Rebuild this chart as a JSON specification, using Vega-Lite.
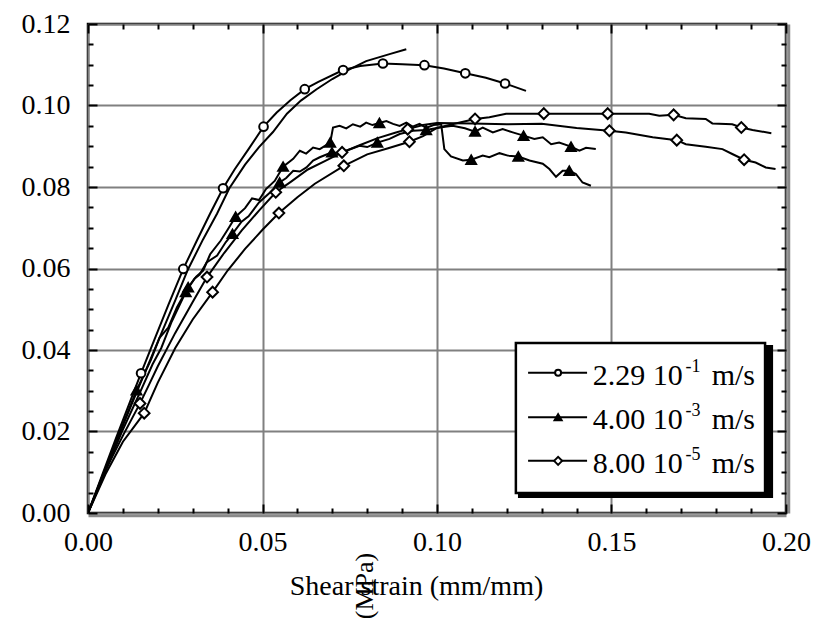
{
  "$schema": "https://vega.github.io/schema/vega-lite/v6.json",
  "width": 698,
  "height": 489,
  "autosize": {"type": "none"},
  "padding": {"left": 88, "top": 24, "right": 30, "bottom": 105},
  "background": "white",
  "config": {
    "view": {"stroke": "black", "strokeWidth": 2.5},
    "font": "Liberation Serif",
    "axis": {"labelFont": "Liberation Serif", "titleFont": "Liberation Serif", "labelColor": "black", "titleColor": "black", "titleFontWeight": "normal", "tickColor": "black"}
  },
  "datasets": {
    "curves": [
      {"c":"A1","x":0,"y":0},{"c":"A1","x":0.004,"y":0.0092},{"c":"A1","x":0.008,"y":0.0183},{"c":"A1","x":0.012,"y":0.0272},{"c":"A1","x":0.0152,"y":0.0343},{"c":"A1","x":0.019,"y":0.0425},{"c":"A1","x":0.023,"y":0.051},{"c":"A1","x":0.0273,"y":0.0599},{"c":"A1","x":0.031,"y":0.0665},{"c":"A1","x":0.035,"y":0.0735},{"c":"A1","x":0.0387,"y":0.0797},{"c":"A1","x":0.042,"y":0.0843},{"c":"A1","x":0.046,"y":0.0893},{"c":"A1","x":0.0503,"y":0.0948},{"c":"A1","x":0.054,"y":0.0982},{"c":"A1","x":0.058,"y":0.1013},{"c":"A1","x":0.0621,"y":0.104},{"c":"A1","x":0.066,"y":0.1058},{"c":"A1","x":0.0731,"y":0.1087},{"c":"A1","x":0.078,"y":0.1097},{"c":"A1","x":0.0845,"y":0.1103},{"c":"A1","x":0.09,"y":0.1101},{"c":"A1","x":0.0964,"y":0.1099},{"c":"A1","x":0.102,"y":0.1091},{"c":"A1","x":0.1081,"y":0.1079},{"c":"A1","x":0.114,"y":0.1068},{"c":"A1","x":0.1195,"y":0.1054},{"c":"A1","x":0.1255,"y":0.1036},
      {"c":"A2","x":0,"y":0},{"c":"A2","x":0.005,"y":0.0108},{"c":"A2","x":0.01,"y":0.0215},{"c":"A2","x":0.015,"y":0.0318},{"c":"A2","x":0.02,"y":0.042},{"c":"A2","x":0.025,"y":0.0522},{"c":"A2","x":0.0286,"y":0.0597},{"c":"A2","x":0.033,"y":0.0672},{"c":"A2","x":0.037,"y":0.0735},{"c":"A2","x":0.0405,"y":0.0797},{"c":"A2","x":0.045,"y":0.0855},{"c":"A2","x":0.049,"y":0.0898},{"c":"A2","x":0.053,"y":0.0935},{"c":"A2","x":0.057,"y":0.098},{"c":"A2","x":0.061,"y":0.1012},{"c":"A2","x":0.0655,"y":0.104},{"c":"A2","x":0.07,"y":0.1065},{"c":"A2","x":0.0745,"y":0.1087},{"c":"A2","x":0.0797,"y":0.1109},{"c":"A2","x":0.0864,"y":0.1126},{"c":"A2","x":0.0912,"y":0.1138},
      {"c":"B1","x":0,"y":0},{"c":"B1","x":0.004,"y":0.0088},{"c":"B1","x":0.0085,"y":0.0185},{"c":"B1","x":0.0139,"y":0.0301},{"c":"B1","x":0.018,"y":0.0375},{"c":"B1","x":0.0205,"y":0.043},{"c":"B1","x":0.023,"y":0.0455},{"c":"B1","x":0.0255,"y":0.0505},{"c":"B1","x":0.0287,"y":0.0554},{"c":"B1","x":0.031,"y":0.058},{"c":"B1","x":0.033,"y":0.0595},{"c":"B1","x":0.035,"y":0.0635},{"c":"B1","x":0.038,"y":0.0668},{"c":"B1","x":0.04,"y":0.0695},{"c":"B1","x":0.0423,"y":0.0727},{"c":"B1","x":0.045,"y":0.0748},{"c":"B1","x":0.047,"y":0.0772},{"c":"B1","x":0.049,"y":0.0768},{"c":"B1","x":0.051,"y":0.0795},{"c":"B1","x":0.0535,"y":0.0815},{"c":"B1","x":0.0559,"y":0.085},{"c":"B1","x":0.0588,"y":0.0869},{"c":"B1","x":0.0607,"y":0.0889},{"c":"B1","x":0.0625,"y":0.0882},{"c":"B1","x":0.0645,"y":0.0897},{"c":"B1","x":0.0664,"y":0.0893},{"c":"B1","x":0.0694,"y":0.0909},{"c":"B1","x":0.0702,"y":0.0946},{"c":"B1","x":0.0721,"y":0.095},{"c":"B1","x":0.074,"y":0.0944},{"c":"B1","x":0.0759,"y":0.0954},{"c":"B1","x":0.078,"y":0.0948},{"c":"B1","x":0.0797,"y":0.0958},{"c":"B1","x":0.0815,"y":0.0952},{"c":"B1","x":0.0835,"y":0.0957},{"c":"B1","x":0.0855,"y":0.0962},{"c":"B1","x":0.0874,"y":0.0955},{"c":"B1","x":0.0893,"y":0.095},{"c":"B1","x":0.0912,"y":0.0958},{"c":"B1","x":0.093,"y":0.0948},{"c":"B1","x":0.095,"y":0.0955},{"c":"B1","x":0.0969,"y":0.0945},{"c":"B1","x":0.099,"y":0.0952},{"c":"B1","x":0.1012,"y":0.0954},{"c":"B1","x":0.1021,"y":0.0893},{"c":"B1","x":0.104,"y":0.0875},{"c":"B1","x":0.1074,"y":0.0865},{"c":"B1","x":0.1098,"y":0.0867},{"c":"B1","x":0.1131,"y":0.0877},{"c":"B1","x":0.115,"y":0.0873},{"c":"B1","x":0.1179,"y":0.0883},{"c":"B1","x":0.1203,"y":0.0877},{"c":"B1","x":0.1233,"y":0.0875},{"c":"B1","x":0.1265,"y":0.0865},{"c":"B1","x":0.1303,"y":0.0857},{"c":"B1","x":0.1322,"y":0.0844},{"c":"B1","x":0.1341,"y":0.0825},{"c":"B1","x":0.136,"y":0.084},{"c":"B1","x":0.1379,"y":0.084},{"c":"B1","x":0.1398,"y":0.0832},{"c":"B1","x":0.1417,"y":0.0811},{"c":"B1","x":0.1441,"y":0.0803},
      {"c":"B2","x":0,"y":0},{"c":"B2","x":0.005,"y":0.0102},{"c":"B2","x":0.01,"y":0.0205},{"c":"B2","x":0.015,"y":0.0298},{"c":"B2","x":0.0185,"y":0.0365},{"c":"B2","x":0.021,"y":0.0405},{"c":"B2","x":0.024,"y":0.047},{"c":"B2","x":0.028,"y":0.0542},{"c":"B2","x":0.0305,"y":0.0575},{"c":"B2","x":0.032,"y":0.0585},{"c":"B2","x":0.034,"y":0.0615},{"c":"B2","x":0.037,"y":0.0632},{"c":"B2","x":0.0395,"y":0.0665},{"c":"B2","x":0.0414,"y":0.0685},{"c":"B2","x":0.044,"y":0.0715},{"c":"B2","x":0.046,"y":0.0728},{"c":"B2","x":0.049,"y":0.0762},{"c":"B2","x":0.052,"y":0.0785},{"c":"B2","x":0.0549,"y":0.0811},{"c":"B2","x":0.0568,"y":0.0822},{"c":"B2","x":0.0588,"y":0.084},{"c":"B2","x":0.0607,"y":0.0838},{"c":"B2","x":0.0626,"y":0.0848},{"c":"B2","x":0.0645,"y":0.0865},{"c":"B2","x":0.0664,"y":0.0873},{"c":"B2","x":0.0699,"y":0.0885},{"c":"B2","x":0.072,"y":0.0883},{"c":"B2","x":0.074,"y":0.0889},{"c":"B2","x":0.0778,"y":0.0901},{"c":"B2","x":0.08,"y":0.0898},{"c":"B2","x":0.0829,"y":0.0909},{"c":"B2","x":0.0864,"y":0.0918},{"c":"B2","x":0.0893,"y":0.093},{"c":"B2","x":0.0931,"y":0.0938},{"c":"B2","x":0.0969,"y":0.094},{"c":"B2","x":0.1007,"y":0.0946},{"c":"B2","x":0.1045,"y":0.095},{"c":"B2","x":0.108,"y":0.0944},{"c":"B2","x":0.1109,"y":0.0936},{"c":"B2","x":0.1131,"y":0.0946},{"c":"B2","x":0.116,"y":0.0934},{"c":"B2","x":0.1188,"y":0.0942},{"c":"B2","x":0.1217,"y":0.0934},{"c":"B2","x":0.1248,"y":0.0926},{"c":"B2","x":0.1279,"y":0.0918},{"c":"B2","x":0.1303,"y":0.0922},{"c":"B2","x":0.1327,"y":0.0905},{"c":"B2","x":0.135,"y":0.0909},{"c":"B2","x":0.1384,"y":0.0899},{"c":"B2","x":0.1408,"y":0.0889},{"c":"B2","x":0.1427,"y":0.0896},{"c":"B2","x":0.1455,"y":0.0893},
      {"c":"C1","x":0,"y":0},{"c":"C1","x":0.005,"y":0.0105},{"c":"C1","x":0.01,"y":0.019},{"c":"C1","x":0.0149,"y":0.0269},{"c":"C1","x":0.0175,"y":0.0315},{"c":"C1","x":0.02,"y":0.036},{"c":"C1","x":0.025,"y":0.0442},{"c":"C1","x":0.03,"y":0.0518},{"c":"C1","x":0.0341,"y":0.0579},{"c":"C1","x":0.039,"y":0.0638},{"c":"C1","x":0.044,"y":0.0693},{"c":"C1","x":0.049,"y":0.0742},{"c":"C1","x":0.0538,"y":0.0787},{"c":"C1","x":0.058,"y":0.0812},{"c":"C1","x":0.063,"y":0.0843},{"c":"C1","x":0.068,"y":0.0864},{"c":"C1","x":0.0728,"y":0.0885},{"c":"C1","x":0.078,"y":0.0903},{"c":"C1","x":0.083,"y":0.092},{"c":"C1","x":0.088,"y":0.0933},{"c":"C1","x":0.0916,"y":0.0942},{"c":"C1","x":0.096,"y":0.0952},{"c":"C1","x":0.1,"y":0.0957},{"c":"C1","x":0.11,"y":0.0956},{"c":"C1","x":0.12,"y":0.0954},{"c":"C1","x":0.13,"y":0.0955},{"c":"C1","x":0.14,"y":0.0945},{"c":"C1","x":0.1494,"y":0.0938},{"c":"C1","x":0.1541,"y":0.0934},{"c":"C1","x":0.1618,"y":0.0922},{"c":"C1","x":0.1687,"y":0.0915},{"c":"C1","x":0.1713,"y":0.0905},{"c":"C1","x":0.177,"y":0.0899},{"c":"C1","x":0.1818,"y":0.0893},{"c":"C1","x":0.1846,"y":0.0881},{"c":"C1","x":0.188,"y":0.0867},{"c":"C1","x":0.1913,"y":0.086},{"c":"C1","x":0.1942,"y":0.0848},{"c":"C1","x":0.197,"y":0.0844},
      {"c":"C2","x":0,"y":0},{"c":"C2","x":0.005,"y":0.0095},{"c":"C2","x":0.01,"y":0.0175},{"c":"C2","x":0.0161,"y":0.0245},{"c":"C2","x":0.02,"y":0.032},{"c":"C2","x":0.025,"y":0.0405},{"c":"C2","x":0.03,"y":0.0475},{"c":"C2","x":0.0357,"y":0.0542},{"c":"C2","x":0.04,"y":0.0595},{"c":"C2","x":0.045,"y":0.0648},{"c":"C2","x":0.05,"y":0.0695},{"c":"C2","x":0.0547,"y":0.0736},{"c":"C2","x":0.06,"y":0.0775},{"c":"C2","x":0.065,"y":0.0808},{"c":"C2","x":0.0733,"y":0.0852},{"c":"C2","x":0.08,"y":0.088},{"c":"C2","x":0.086,"y":0.0895},{"c":"C2","x":0.0921,"y":0.0911},{"c":"C2","x":0.096,"y":0.0925},{"c":"C2","x":0.1,"y":0.0945},{"c":"C2","x":0.105,"y":0.0955},{"c":"C2","x":0.1109,"y":0.0967},{"c":"C2","x":0.115,"y":0.0971},{"c":"C2","x":0.1198,"y":0.098},{"c":"C2","x":0.1306,"y":0.098},{"c":"C2","x":0.1489,"y":0.098},{"c":"C2","x":0.1608,"y":0.098},{"c":"C2","x":0.1637,"y":0.0975},{"c":"C2","x":0.1678,"y":0.0977},{"c":"C2","x":0.1713,"y":0.0969},{"c":"C2","x":0.177,"y":0.0967},{"c":"C2","x":0.1789,"y":0.0956},{"c":"C2","x":0.1846,"y":0.0954},{"c":"C2","x":0.1872,"y":0.0946},{"c":"C2","x":0.1904,"y":0.094},{"c":"C2","x":0.1958,"y":0.0932}
    ],
    "markers": [
      {"s":"A","x":0.0152,"y":0.0343},{"s":"A","x":0.0273,"y":0.0599},{"s":"A","x":0.0387,"y":0.0797},{"s":"A","x":0.0503,"y":0.0948},{"s":"A","x":0.0621,"y":0.104},{"s":"A","x":0.0731,"y":0.1087},{"s":"A","x":0.0845,"y":0.1103},{"s":"A","x":0.0964,"y":0.1099},{"s":"A","x":0.1081,"y":0.1079},{"s":"A","x":0.1195,"y":0.1054},
      {"s":"B","x":0.0139,"y":0.0301},{"s":"B","x":0.0287,"y":0.0554},{"s":"B","x":0.0423,"y":0.0727},{"s":"B","x":0.0559,"y":0.085},{"s":"B","x":0.0694,"y":0.0909},{"s":"B","x":0.0835,"y":0.0957},{"s":"B","x":0.1098,"y":0.0867},{"s":"B","x":0.1233,"y":0.0875},{"s":"B","x":0.1379,"y":0.084},
      {"s":"B","x":0.028,"y":0.0542},{"s":"B","x":0.0414,"y":0.0685},{"s":"B","x":0.0549,"y":0.0811},{"s":"B","x":0.0699,"y":0.0885},{"s":"B","x":0.0829,"y":0.0909},{"s":"B","x":0.0969,"y":0.094},{"s":"B","x":0.1109,"y":0.0936},{"s":"B","x":0.1248,"y":0.0926},{"s":"B","x":0.1384,"y":0.0899},
      {"s":"C","x":0.0149,"y":0.0269},{"s":"C","x":0.0341,"y":0.0579},{"s":"C","x":0.0538,"y":0.0787},{"s":"C","x":0.0728,"y":0.0885},{"s":"C","x":0.0916,"y":0.0942},{"s":"C","x":0.1494,"y":0.0938},{"s":"C","x":0.1687,"y":0.0915},{"s":"C","x":0.188,"y":0.0867},
      {"s":"C","x":0.0161,"y":0.0245},{"s":"C","x":0.0357,"y":0.0542},{"s":"C","x":0.0547,"y":0.0736},{"s":"C","x":0.0733,"y":0.0852},{"s":"C","x":0.0921,"y":0.0911},{"s":"C","x":0.1109,"y":0.0967},{"s":"C","x":0.1306,"y":0.098},{"s":"C","x":0.1489,"y":0.098},{"s":"C","x":0.1678,"y":0.0977},{"s":"C","x":0.1872,"y":0.0946}
    ],
    "legend": [
      {"s":"A","y":0.0344,"main":"2.29 10","sup":"-1","unit":"m/s"},
      {"s":"B","y":0.0235,"main":"4.00 10","sup":"-3","unit":"m/s"},
      {"s":"C","y":0.0128,"main":"8.00 10","sup":"-5","unit":"m/s"}
    ],
    "one": [{"k":1}]
  },
  "resolve": {"axis": {"x": "independent", "y": "independent"}, "scale": {"size": "independent"}},
  "layer": [
    {
      "data": {"name": "curves"},
      "mark": {"type": "line", "color": "black", "strokeWidth": 2, "clip": true},
      "encoding": {
        "x": {"field": "x", "type": "quantitative", "scale": {"domain": [0, 0.2], "nice": false, "zero": true},
          "axis": {"orient": "bottom", "values": [0, 0.05, 0.1, 0.15, 0.2], "format": ".2f", "grid": true, "gridColor": "#808080", "gridWidth": 2, "gridOpacity": 1, "ticks": false, "domain": false, "labelFontSize": 28, "labelBaseline": "alphabetic", "labelPadding": 37, "labelFlush": false, "labelOverlap": false,
            "title": "Shear strain (mm/mm)", "titleFontSize": 28, "titleX": 328, "titleY": 81, "titleBaseline": "alphabetic", "titleAnchor": "middle"}},
        "y": {"field": "y", "type": "quantitative", "scale": {"domain": [0, 0.12], "nice": false, "zero": true},
          "axis": {"orient": "left", "values": [0, 0.02, 0.04, 0.06, 0.08, 0.1, 0.12], "format": ".2f", "grid": true, "gridColor": "#808080", "gridWidth": 2, "gridOpacity": 1, "ticks": false, "domain": false, "labelFontSize": 28, "labelPadding": 18, "labelBaseline": "middle", "labelFlush": false, "labelOverlap": false, "title": null}},
        "detail": {"field": "c", "type": "nominal"},
        "order": {"field": "x", "type": "quantitative"}
      }
    },
    {
      "data": {"name": "markers"},
      "mark": {"type": "point", "stroke": "black", "strokeWidth": 2, "opacity": 1, "filled": false},
      "encoding": {
        "x": {"field": "x", "type": "quantitative",
          "axis": {"orient": "top", "values": [0, 0.05, 0.1, 0.15, 0.2], "labels": false, "domain": false, "grid": false, "ticks": true, "tickSize": 9, "tickWidth": 2, "offset": -9, "title": null}},
        "y": {"field": "y", "type": "quantitative",
          "axis": {"orient": "right", "values": [0, 0.02, 0.04, 0.06, 0.08, 0.1, 0.12], "labels": false, "domain": false, "grid": false, "ticks": true, "tickSize": 9, "tickWidth": 2, "offset": -9, "title": null}},
        "shape": {"field": "s", "type": "nominal", "scale": {"domain": ["A", "B", "C"], "range": ["circle", "triangle-up", "diamond"]}, "legend": null},
        "fill": {"field": "s", "type": "nominal", "scale": {"domain": ["A", "B", "C"], "range": ["white", "black", "white"]}, "legend": null},
        "size": {"field": "s", "type": "nominal", "scale": {"domain": ["A", "B", "C"], "range": [75, 115, 170]}, "legend": null}
      }
    },
    {
      "data": {"name": "one"},
      "mark": {"type": "rect", "fill": "black"},
      "encoding": {
        "x": {"datum": 0.1232, "type": "quantitative",
          "axis": {"orient": "bottom", "values": [0, 0.05, 0.1, 0.15, 0.2], "labels": false, "domain": false, "grid": false, "ticks": true, "tickSize": 9, "tickWidth": 2, "offset": -9, "title": null}},
        "x2": {"datum": 0.1963},
        "y": {"datum": 0.0412, "type": "quantitative",
          "axis": {"orient": "left", "values": [0, 0.02, 0.04, 0.06, 0.08, 0.1, 0.12], "labels": false, "domain": false, "grid": false, "ticks": true, "tickSize": 9, "tickWidth": 2, "offset": -9, "title": null}},
        "y2": {"datum": 0.0037}
      }
    },
    {
      "data": {"name": "one"},
      "mark": {"type": "rect", "fill": "white", "stroke": "black", "strokeWidth": 2.5},
      "encoding": {
        "x": {"datum": 0.1226, "type": "quantitative",
          "axis": {"orient": "top", "values": [0.01, 0.02, 0.03, 0.04, 0.06, 0.07, 0.08, 0.09, 0.11, 0.12, 0.13, 0.14, 0.16, 0.17, 0.18, 0.19], "labels": false, "domain": false, "grid": false, "ticks": true, "tickSize": 5, "tickWidth": 2, "offset": -5, "title": null}},
        "x2": {"datum": 0.194},
        "y": {"datum": 0.0417, "type": "quantitative",
          "axis": {"orient": "right", "values": [0.005, 0.01, 0.015, 0.025, 0.03, 0.035, 0.045, 0.05, 0.055, 0.065, 0.07, 0.075, 0.085, 0.09, 0.095, 0.105, 0.11, 0.115], "labels": false, "domain": false, "grid": false, "ticks": true, "tickSize": 5, "tickWidth": 2, "offset": -5, "title": null}},
        "y2": {"datum": 0.0049}
      }
    },
    {
      "data": {"name": "legend"},
      "mark": {"type": "rule", "color": "black", "strokeWidth": 2},
      "encoding": {
        "x": {"datum": 0.1261, "type": "quantitative",
          "axis": {"orient": "bottom", "values": [0.01, 0.02, 0.03, 0.04, 0.06, 0.07, 0.08, 0.09, 0.11, 0.12, 0.13, 0.14, 0.16, 0.17, 0.18, 0.19], "labels": false, "domain": false, "grid": false, "ticks": true, "tickSize": 5, "tickWidth": 2, "offset": -5, "title": null}},
        "x2": {"datum": 0.143},
        "y": {"field": "y", "type": "quantitative",
          "axis": {"orient": "left", "values": [0.005, 0.01, 0.015, 0.025, 0.03, 0.035, 0.045, 0.05, 0.055, 0.065, 0.07, 0.075, 0.085, 0.09, 0.095, 0.105, 0.11, 0.115], "labels": false, "domain": false, "grid": false, "ticks": true, "tickSize": 5, "tickWidth": 2, "offset": -5, "title": null}}
      }
    },
    {
      "data": {"name": "legend"},
      "mark": {"type": "point", "stroke": "black", "strokeWidth": 2, "opacity": 1, "filled": false},
      "encoding": {
        "x": {"datum": 0.1347, "type": "quantitative",
          "axis": {"orient": "bottom", "labels": false, "ticks": false, "grid": false, "domain": true, "domainColor": "#8a8a8a", "domainWidth": 2.5, "offset": 2.5, "title": null}},
        "y": {"field": "y", "type": "quantitative",
          "axis": {"orient": "right", "labels": false, "ticks": false, "grid": false, "domain": true, "domainColor": "#8a8a8a", "domainWidth": 2.5, "offset": 2.5, "title": null}},
        "shape": {"field": "s", "type": "nominal", "scale": {"domain": ["A", "B", "C"], "range": ["circle", "triangle-up", "diamond"]}, "legend": null},
        "fill": {"field": "s", "type": "nominal", "scale": {"domain": ["A", "B", "C"], "range": ["white", "black", "white"]}, "legend": null},
        "size": {"field": "s", "type": "nominal", "scale": {"domain": ["A", "B", "C"], "range": [36, 64, 144]}, "legend": null}
      }
    },
    {
      "data": {"name": "legend"},
      "mark": {"type": "text", "font": "Liberation Serif", "fontSize": 30, "align": "left", "baseline": "alphabetic", "dy": 12, "color": "black"},
      "encoding": {
        "x": {"datum": 0.1446, "type": "quantitative", "axis": null},
        "y": {"field": "y", "type": "quantitative", "axis": null},
        "text": {"field": "main"}
      }
    },
    {
      "data": {"name": "legend"},
      "mark": {"type": "text", "font": "Liberation Serif", "fontSize": 18, "align": "left", "baseline": "alphabetic", "dy": -1, "color": "black"},
      "encoding": {
        "x": {"datum": 0.1712, "type": "quantitative", "axis": null},
        "y": {"field": "y", "type": "quantitative", "axis": null},
        "text": {"field": "sup"}
      }
    },
    {
      "data": {"name": "legend"},
      "mark": {"type": "text", "font": "Liberation Serif", "fontSize": 30, "align": "left", "baseline": "alphabetic", "dy": 12, "color": "black"},
      "encoding": {
        "x": {"datum": 0.1787, "type": "quantitative", "axis": null},
        "y": {"field": "y", "type": "quantitative", "axis": null},
        "text": {"field": "unit"}
      }
    },
    {
      "data": {"values": [{"t": "(MPa)"}]},
      "mark": {"type": "text", "font": "Liberation Serif", "fontSize": 26, "align": "center", "baseline": "middle", "angle": 270, "color": "black"},
      "encoding": {
        "x": {"datum": 0.0793, "type": "quantitative", "axis": null},
        "y": {"datum": -0.0179, "type": "quantitative", "axis": null},
        "text": {"field": "t"}
      }
    }
  ]
}
